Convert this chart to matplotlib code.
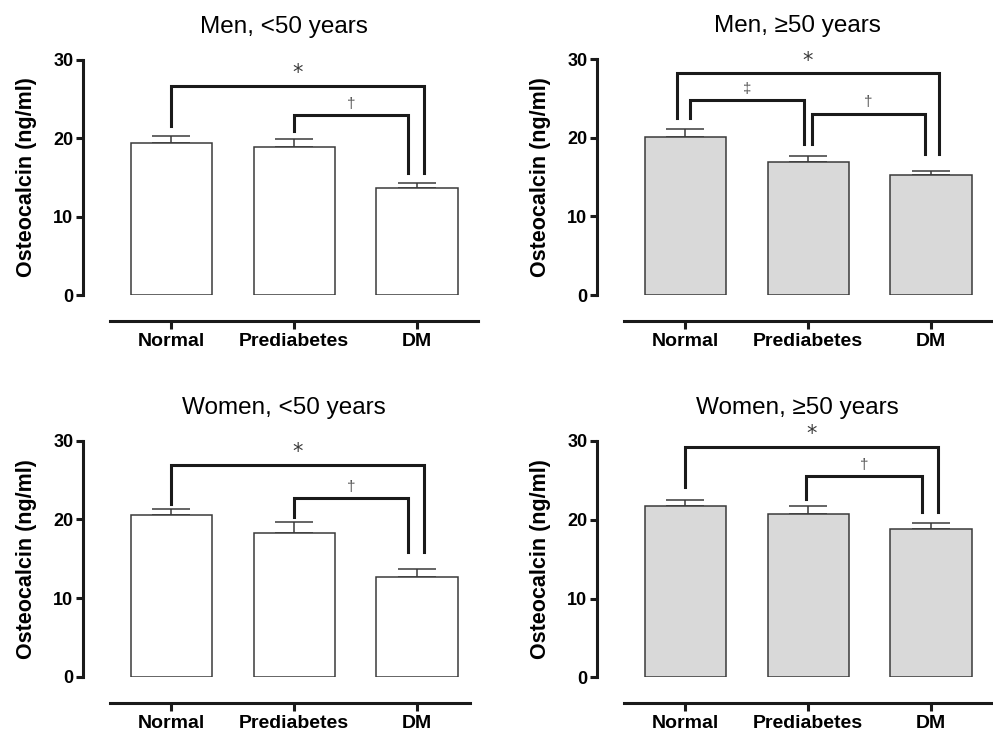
import matplotlib
matplotlib.use('Agg')
import matplotlib.pyplot as plt
import numpy as np

plt.rcParams['font.family'] = ['Liberation Sans', 'DejaVu Sans']

# ---------------- data ----------------
categories = ['Normal', 'Prediabetes', 'DM']
titles = ['Men, <50 years', 'Men, \u226550 years', 'Women, <50 years', 'Women, \u226550 years']
ylabel = 'Osteocalcin (ng/ml)'
yticks = [0, 10, 20, 30]

men_lt50_mean = [19.4, 18.95, 13.7]
men_lt50_sem = [0.95, 0.95, 0.6]
men_ge50_mean = [20.1, 16.9, 15.3]
men_ge50_sem = [1.0, 0.85, 0.5]
women_lt50_mean = [20.55, 18.3, 12.7]
women_lt50_sem = [0.8, 1.4, 0.95]
women_ge50_mean = [21.75, 20.7, 18.85]
women_ge50_sem = [0.8, 1.0, 0.75]

# significance brackets: (left group, right group, bracket level, left leg end, right leg end, symbol)
men_lt50_sig = [(0, 2, 26.7, 21.6, 15.6, '*'), (1, 2, 23.0, 20.9, 15.6, '\u2020')]
men_ge50_sig = [(0, 2, 28.2, 22.5, 18.0, '*'), (0, 1, 24.8, 22.5, 19.2, '\u2021'),
                (1, 2, 23.1, 19.2, 18.0, '\u2020')]
women_lt50_sig = [(0, 2, 26.9, 22.0, 15.9, '*'), (1, 2, 22.75, 20.3, 15.9, '\u2020')]
women_ge50_sig = [(0, 2, 29.25, 24.1, 21.0, '*'), (1, 2, 25.5, 22.6, 21.0, '\u2020')]

# leg x-offsets (category units) for each bracket leg
men_lt50_off = [(0.0, 0.057), (0.0, -0.075)]
men_ge50_off = [(-0.065, 0.062), (0.04, -0.036), (0.027, -0.052)]
women_lt50_off = [(0.0, 0.053), (0.0, -0.077)]
women_ge50_off = [(0.0, 0.06), (-0.016, -0.07)]

panels = [
    (men_lt50_mean, men_lt50_sem, men_lt50_sig, men_lt50_off, 'white'),
    (men_ge50_mean, men_ge50_sem, men_ge50_sig, men_ge50_off, '#d9d9d9'),
    (women_lt50_mean, women_lt50_sem, women_lt50_sig, women_lt50_off, 'white'),
    (women_ge50_mean, women_ge50_sem, women_ge50_sig, women_ge50_off, '#d9d9d9'),
]

# layout in pixels: (spine x, y of 0, y of 30, x-axis right end in category units)
W, H = 993, 733
layout = [(83, 295, 60, 2.5), (597, 295, 59.3, 2.55), (83, 676.7, 440.7, 2.43), (597, 677.3, 441, 2.55)]
XL, XR = -0.72, 2.55
unit = 122.8

fig = plt.figure(figsize=(W / 100, H / 100), dpi=100)
edge = '#3a3a3a'
dark = '#1a1a1a'

for (means, sems, sigs, offs, fill), (sx, y0, y30, xend), title in zip(panels, layout, titles):
    wpx = (XR - XL) * unit
    ax = fig.add_axes([sx / W, (H - y0) / H, wpx / W, (y0 - y30) / H])
    x = np.arange(len(categories))
    ax.bar(x, means, width=0.66, color=fill, edgecolor=edge, linewidth=1.1, zorder=2)
    ax.errorbar(x, means, yerr=[np.zeros(len(x)), sems], fmt='none', ecolor=edge,
                elinewidth=1.1, capsize=14, capthick=1.1, zorder=1)
    for (i, j, lvl, lb, rb, sym), (oi, oj) in zip(sigs, offs):
        xl, xr = i + oi, j + oj
        ax.plot([xl, xl, xr, xr], [lb, lvl, lvl, rb], color=dark, lw=2.2,
                clip_on=False, solid_joinstyle='miter', zorder=3)
        if sym == '*':
            ax.annotate(sym, xy=((xl + xr) / 2, lvl), xytext=(0, 2), textcoords='offset points',
                        ha='center', va='bottom', fontsize=15, color='#3a3a3a',
                        family='DejaVu Sans', annotation_clip=False)
        else:
            ax.annotate(sym, xy=((xl + xr) / 2, lvl), xytext=(0, 3), textcoords='offset points',
                        ha='center', va='bottom', fontsize=11, color='#555555',
                        annotation_clip=False)
    ax.set_xlim(XL, XR)
    ax.set_ylim(0, 30)
    ax.set_yticks(yticks)
    ax.set_xticks(x)
    ax.set_xticklabels(categories)
    for s in ['top', 'right']:
        ax.spines[s].set_visible(False)
    ax.spines['left'].set_bounds(0, 30)
    ax.spines['left'].set_linewidth(2.2)
    ax.spines['left'].set_color(dark)
    ax.spines['bottom'].set_position(('outward', 18.7))
    ax.spines['bottom'].set_bounds(-0.5, xend)
    ax.spines['bottom'].set_linewidth(2.2)
    ax.spines['bottom'].set_color(dark)
    ax.tick_params(axis='y', length=5, width=2.2, pad=2, color=dark, labelsize=13)
    ax.tick_params(axis='x', length=5.8, width=2.2, pad=3, color=dark, labelsize=14)
    for lab in ax.get_xticklabels() + ax.get_yticklabels():
        lab.set_fontweight('bold')
    ax.set_ylabel(ylabel, fontsize=15.5, fontweight='bold')
    ax.yaxis.set_label_coords(-46 / wpx, 0.5)
    ax.set_title(title, fontsize=17.5, pad=19.5)
    ax.patch.set_alpha(0)

fig.savefig('out.png', dpi=100)
